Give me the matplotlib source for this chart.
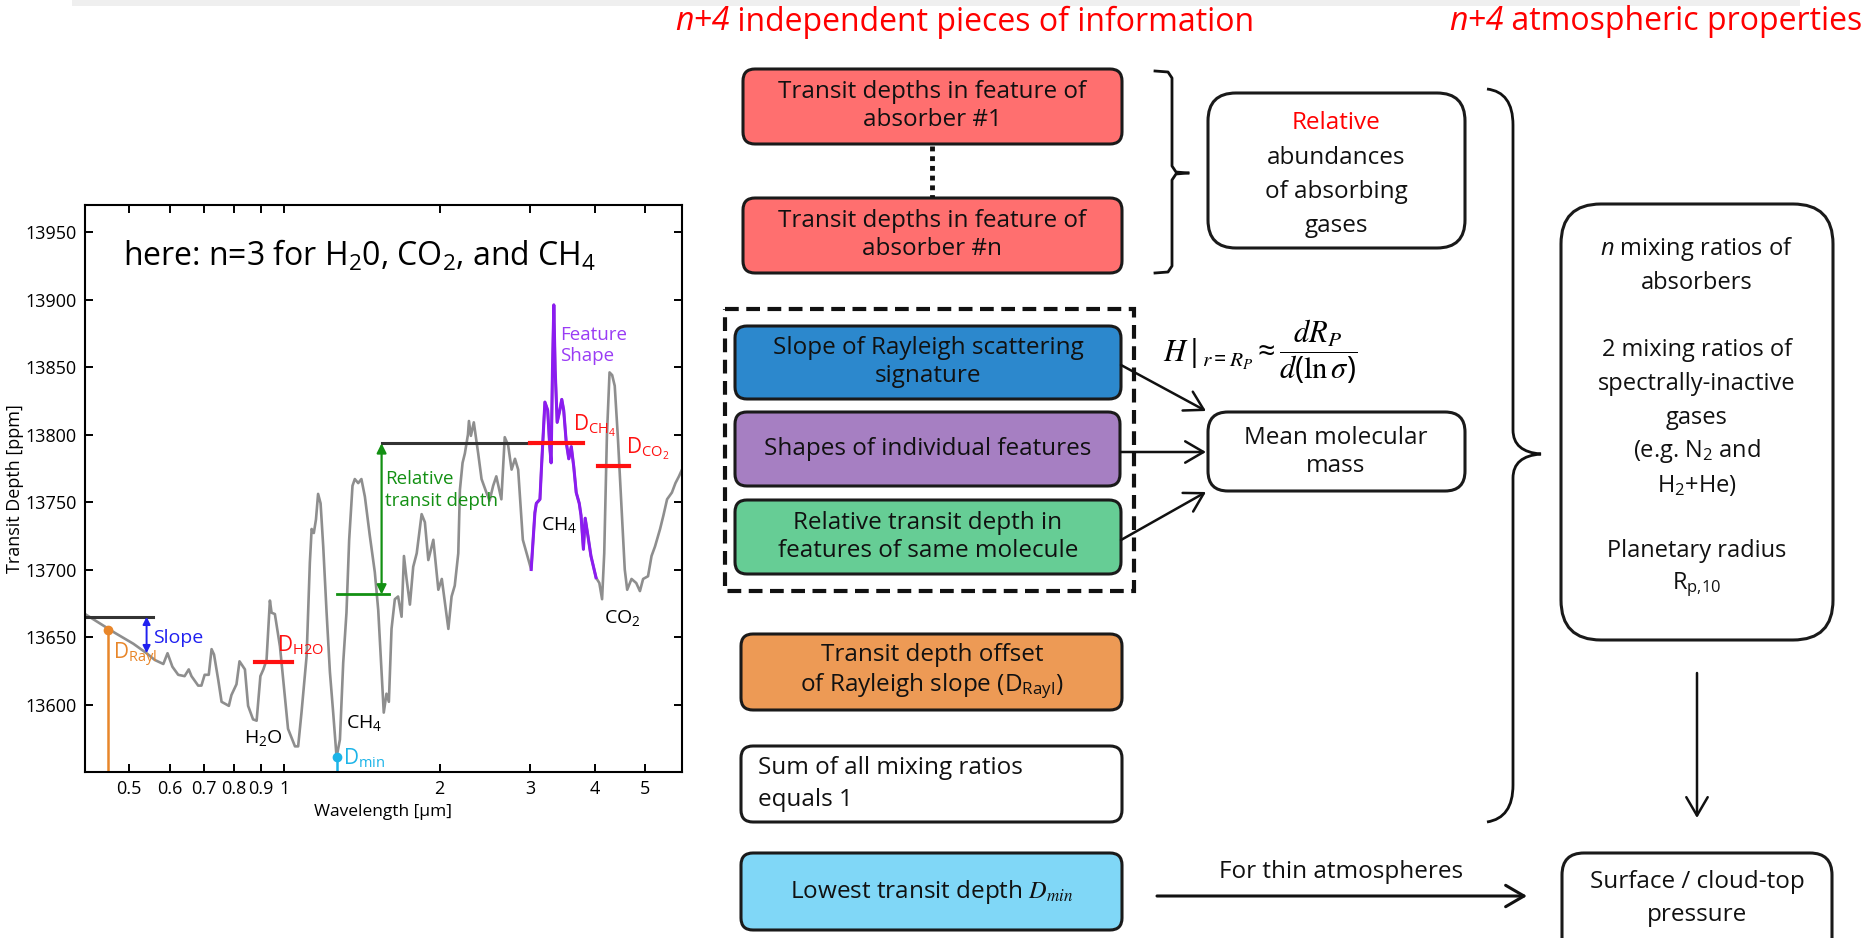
import numpy as np
import matplotlib
matplotlib.use('Agg')
import matplotlib.pyplot as plt
from matplotlib.patches import FancyBboxPatch, Rectangle, PathPatch
from matplotlib.path import Path
from matplotlib.ticker import NullLocator

plt.rcParams['font.family'] = ['Open Sans', 'DejaVu Sans']
plt.rcParams['mathtext.fontset'] = 'custom'
plt.rcParams['mathtext.rm'] = 'Open Sans'
plt.rcParams['mathtext.it'] = 'Open Sans:italic'
plt.rcParams['mathtext.default'] = 'regular'

# transmission spectrum: wavelength [micron] and transit depth [ppm]
wavelength = np.array([
    0.411, 0.47, 0.51, 0.541, 0.561, 0.583, 0.594, 0.607, 0.623, 0.641,
    0.653, 0.661, 0.681, 0.691, 0.701, 0.714, 0.723, 0.731, 0.745, 0.756,
    0.781, 0.79, 0.808, 0.819, 0.839, 0.851, 0.870, 0.884, 0.899, 0.911,
    0.924, 0.938, 0.945, 0.959, 0.981, 0.995, 1.017, 1.049, 1.064, 1.080,
    1.105, 1.121, 1.130, 1.141, 1.152, 1.163, 1.176, 1.190, 1.208, 1.226,
    1.244, 1.263, 1.282, 1.301, 1.320, 1.336, 1.356, 1.370, 1.391, 1.411,
    1.433, 1.465, 1.498, 1.521, 1.544, 1.559, 1.578, 1.595, 1.614, 1.638,
    1.662, 1.688, 1.706, 1.726, 1.752, 1.778, 1.806, 1.846, 1.873, 1.902,
    1.945, 1.989, 2.02, 2.08, 2.11, 2.14, 2.174, 2.19, 2.216, 2.239,
    2.27, 2.28, 2.30, 2.33, 2.376, 2.412, 2.465, 2.50, 2.54, 2.576,
    2.635, 2.675, 2.716, 2.758, 2.80, 2.84, 2.90, 2.95, 3.01, 3.06,
    3.08, 3.13, 3.15, 3.20, 3.24, 3.27, 3.29, 3.31, 3.33, 3.35,
    3.38, 3.42, 3.45, 3.48, 3.52, 3.56, 3.60, 3.64, 3.68, 3.73,
    3.76, 3.80, 3.83, 3.87, 3.93, 4.02, 4.08, 4.13, 4.17, 4.22,
    4.27, 4.32, 4.37, 4.43, 4.50, 4.57, 4.62, 4.71, 4.81, 4.89,
    4.96, 5.07, 5.15, 5.23, 5.35, 5.43, 5.52, 5.64, 5.73, 5.82, 5.90])
transit_depth = np.array([
    13667, 13653, 13645, 13638, 13633, 13630, 13638, 13628, 13622, 13621,
    13626, 13621, 13614, 13614, 13622, 13622, 13641, 13637, 13618, 13602,
    13599, 13607, 13615, 13632, 13626, 13599, 13589, 13588, 13621, 13626,
    13633, 13677, 13668, 13667, 13643, 13619, 13582, 13569, 13569, 13594,
    13636, 13705, 13730, 13727, 13737, 13756, 13749, 13717, 13668, 13624,
    13594, 13561, 13574, 13631, 13668, 13722, 13762, 13767, 13764, 13767,
    13754, 13725, 13698, 13670, 13624, 13594, 13608, 13602, 13656, 13678,
    13680, 13665, 13710, 13693, 13674, 13702, 13712, 13741, 13735, 13707,
    13722, 13685, 13693, 13656, 13680, 13688, 13712, 13759, 13779, 13786,
    13800, 13810, 13799, 13809, 13786, 13767, 13757, 13751, 13762, 13769,
    13752, 13798, 13792, 13774, 13782, 13774, 13722, 13712, 13700, 13742,
    13749, 13752, 13774, 13824, 13818, 13791, 13779, 13848, 13896, 13848,
    13809, 13818, 13826, 13818, 13794, 13782, 13791, 13776, 13757, 13749,
    13740, 13715, 13738, 13727, 13710, 13694, 13690, 13678, 13712, 13799,
    13846, 13844, 13836, 13799, 13749, 13700, 13685, 13693, 13690, 13684,
    13693, 13695, 13710, 13717, 13730, 13740, 13752, 13757, 13764, 13769, 13774])

# methane band highlighted as "feature shape"
ch4_band = (3.0, 4.03)

xtick_values = [0.5, 0.6, 0.7, 0.8, 0.9, 1, 2, 3, 4, 5]
xtick_labels = ['0.5', '0.6', '0.7', '0.8', '0.9', '1', '2', '3', '4', '5']
ytick_values = [13600, 13650, 13700, 13750, 13800, 13850, 13900, 13950]

# marked depths on the spectrum
d_rayl_wl, d_rayl = 0.456, 13655.5
slope_wl, slope_top, slope_bottom = 0.541, 13665, 13638
slope_ref_span = (0.411, 0.557)
d_h2o_span, d_h2o = (0.877, 1.033), 13631.5
d_min_wl, d_min = 1.263, 13561
rel_base_span, rel_base = (1.263, 1.597), 13681.5
rel_top_span, rel_top = (1.544, 2.99), 13793.5
rel_arrow_wl = 1.544
d_ch4_span, d_ch4 = (2.99, 3.80), 13793.5
d_co2_span, d_co2 = (4.06, 4.65), 13776.5

W, H = 1875, 938
fig = plt.figure(figsize=(W / 100, H / 100), dpi=100)
renderer = fig.canvas.get_renderer()

# flow diagram layer, in pixel units
dg = fig.add_axes([0, 0, 1, 1])
dg.set_xlim(0, W)
dg.set_ylim(H, 0)
dg.axis('off')

# ---------------- spectrum panel ----------------
ax = fig.add_axes([85 / W, 1 - 772 / H, 597 / W, 567 / H])
ax.plot(wavelength, transit_depth, color='#8e8e8e', lw=1.9, zorder=2)
band = (wavelength >= ch4_band[0]) & (wavelength <= ch4_band[1])
ax.plot(wavelength[band], transit_depth[band], color='#8b1cf0', lw=2.2, zorder=3)

ax.set_xscale('log')
ax.set_xlim(0.411, 5.9)
ax.set_ylim(13550, 13970)
ax.set_xticks(xtick_values)
ax.set_xticklabels(xtick_labels)
ax.xaxis.set_minor_locator(NullLocator())
ax.set_yticks(ytick_values)
ax.tick_params(direction='in', top=True, right=True, length=6, width=1.4,
               labelsize=13, pad=6)
for s in ax.spines.values():
    s.set_linewidth(1.5)
ax.set_xlabel('Wavelength [µm]', fontsize=12.5, labelpad=4)
ax.set_ylabel('Transit Depth [ppm]', fontsize=13, labelpad=1)

ax.text(0.487, 13932, 'here: n=3 for H$_2$0, CO$_2$, and CH$_4$', fontsize=23,
        va='center', color='black')

# Rayleigh slope
ax.plot(slope_ref_span, [slope_top, slope_top], color='#333333', lw=2.2)
ax.annotate('', xy=(slope_wl, slope_bottom), xytext=(slope_wl, slope_top),
            arrowprops=dict(arrowstyle='<|-|>', color='#2020f0', lw=1.4,
                            mutation_scale=11, shrinkA=0, shrinkB=0))
ax.text(0.557, 13649, 'Slope', color='#2020f0', fontsize=14, va='center')
ax.plot([d_rayl_wl, d_rayl_wl], [13550, d_rayl], color='#e8862a', lw=1.8)
ax.plot(d_rayl_wl, d_rayl, 'o', color='#e8862a', ms=6)
ax.text(0.466, 13637, 'D$_{Rayl}$', color='#e8862a', fontsize=15, va='center')

# water feature
ax.plot(d_h2o_span, [d_h2o, d_h2o], color='#ff1010', lw=3)
ax.text(0.966, 13644, 'D$_{H2O}$', color='#ff1010', fontsize=15, va='center')
ax.text(0.91, 13575, 'H$_2$O', fontsize=14, va='center', ha='center')

# lowest depth
ax.plot([d_min_wl, d_min_wl], [13550, d_min], color='#1cb4e8', lw=1.8)
ax.plot(d_min_wl, d_min, 'o', color='#1cb4e8', ms=6)
ax.text(1.30, 13560, 'D$_{min}$', color='#1cb4e8', fontsize=15, va='center')
ax.text(1.32, 13586, 'CH$_4$', fontsize=14, va='center')

# relative transit depth
ax.plot(rel_base_span, [rel_base, rel_base], color='#139013', lw=2)
ax.plot(rel_top_span, [rel_top, rel_top], color='#333333', lw=2.2)
ax.annotate('', xy=(rel_arrow_wl, rel_base), xytext=(rel_arrow_wl, rel_top),
            arrowprops=dict(arrowstyle='<|-|>', color='#139013', lw=1.6,
                            mutation_scale=14, shrinkA=0, shrinkB=0))
ax.text(1.566, 13759, 'Relative\ntransit depth', color='#139013', fontsize=13.5,
        va='center', linespacing=1.25)

# methane and CO2 features
ax.plot(d_ch4_span, [d_ch4, d_ch4], color='#ff1010', lw=3, zorder=4)
ax.text(3.63, 13806, 'D$_{CH_4}$', color='#ff1010', fontsize=15, va='center')
ax.text(3.43, 13866, 'Feature\nShape', color='#9a3cf5', fontsize=13.5,
        va='center', linespacing=1.25)
ax.text(3.15, 13733, 'CH$_4$', fontsize=14, va='center')
ax.plot(d_co2_span, [d_co2, d_co2], color='#ff1010', lw=3, zorder=4)
ax.text(4.6, 13789, 'D$_{CO_2}$', color='#ff1010', fontsize=15, va='center')
ax.text(4.17, 13664, 'CO$_2$', fontsize=14, va='center')


# ---------------- diagram ----------------
def box(x0, y0, x1, y1, color, radius=12, lw=2.2):
    dg.add_patch(FancyBboxPatch((x0, y0), x1 - x0, y1 - y0,
                                boxstyle=f'round,pad=0,rounding_size={radius}',
                                fc=color, ec='#1a1a1a', lw=lw))


def label(x, y, s, size=17.5, color='#111111', ha='center', **kw):
    kw.setdefault('linespacing', 1.25)
    dg.text(x, y, s, fontsize=size, color=color, ha=ha, va='center', **kw)


def arrow(x0, y0, x1, y1, lw=1.8):
    dg.annotate('', xy=(x1, y1), xytext=(x0, y0),
                arrowprops=dict(arrowstyle='->, head_length=0.6, head_width=0.35',
                                color='#111111', lw=lw, mutation_scale=22,
                                shrinkA=0, shrinkB=0))


def header(x, y, rest):
    # italic "n+4" followed by upright text
    t = dg.text(x, y, 'n+4', fontsize=23, color='#ff0000', style='italic',
                va='center', ha='left')
    x1 = t.get_window_extent(renderer).x1
    x_next = dg.transData.inverted().transform((x1, 0))[0]
    dg.text(x_next, y, ' ' + rest, fontsize=23, color='#ff0000',
            va='center', ha='left')


# faint strip along the top
dg.add_patch(Rectangle((72, 0), 1728, 6, color='#efefef', lw=0))

# column headers
header(675, 22, 'independent pieces of information')
header(1449, 22, 'atmospheric properties')

# absorber boxes
box(743, 69, 1122, 144, '#ff6f6f')
label(932, 106, 'Transit depths in feature of\nabsorber #1')
box(743, 198, 1122, 273, '#ff6f6f')
label(932, 235, 'Transit depths in feature of\nabsorber #n')
dg.plot([932, 932], [146, 197], color='#111111', lw=3.5, ls=(0, (1, 1)))

# small bracket
dg.plot([1155, 1168, 1172, 1172, 1176, 1188], [71, 72, 78, 166, 172, 173],
        color='#111111', lw=2)
dg.plot([1188, 1176, 1172, 1172, 1168, 1155], [173, 174, 180, 266, 272, 273],
        color='#111111', lw=2)

box(1208, 93, 1465, 248, 'white', radius=28)
label(1336, 123, 'Relative', color='#ff0000')
label(1336, 158, 'abundances')
label(1336, 192, 'of absorbing')
label(1336, 226, 'gases')

# dashed group
dg.add_patch(Rectangle((725, 309), 409, 282, fill=False, ec='#111111', lw=3,
                       ls=(0, (3.3, 1.8))))
box(735, 326, 1121, 399, '#2c88cd')
label(928, 362, 'Slope of Rayleigh scattering\nsignature')
box(735, 412, 1120, 486, '#a67fc2')
label(928, 449, 'Shapes of individual features')
box(735, 500, 1121, 574, '#66cd95')
label(928, 537, 'Relative transit depth in\nfeatures of same molecule')

box(1208, 412, 1465, 491, 'white', radius=20)
label(1336, 452, 'Mean molecular\nmass')
dg.text(1163, 352,
        r'$\mathit{H}|_{\mathit{r}=\mathit{R_P}}\approx'
        r'\dfrac{\mathit{dR_P}}{\mathit{d}(\mathrm{ln}\,\mathit{\sigma})}$',
        fontsize=22, va='center', ha='left', math_fontfamily='stix')
arrow(1121, 365, 1206, 411)
arrow(1121, 452, 1206, 452)
arrow(1121, 540, 1206, 492)

box(741, 634, 1122, 710, '#ed9a55')
label(932, 672, 'Transit depth offset\nof Rayleigh slope (D$_{Rayl}$)')
box(741, 746, 1122, 822, 'white')
label(758, 784, 'Sum of all mixing ratios\nequals 1', ha='left', linespacing=1.4)
box(741, 853, 1122, 930, '#80d7f7')
dg.text(932, 892, r'Lowest transit depth $\mathit{D_{min}}$', fontsize=17.5,
        va='center', ha='center', color='#111111', math_fontfamily='stix')

# thin atmosphere path
label(1341, 872, 'For thin atmospheres')
arrow(1157, 896, 1527, 896, lw=2.2)
box(1562, 853, 1832, 965, 'white', radius=22)
label(1697, 882, 'Surface / cloud-top')
label(1697, 915, 'pressure')

# large brace
brace = Path([(1487, 89), (1513, 92), (1513, 125), (1513, 430), (1513, 452),
              (1541, 454), (1513, 456), (1513, 478), (1513, 785), (1513, 818),
              (1487, 822)],
             [Path.MOVETO, Path.CURVE3, Path.CURVE3, Path.LINETO, Path.CURVE3,
              Path.CURVE3, Path.CURVE3, Path.CURVE3, Path.LINETO, Path.CURVE3,
              Path.CURVE3])
dg.add_patch(PathPatch(brace, fill=False, ec='#111111', lw=2))

# retrieved properties
box(1561, 204, 1833, 640, 'white', radius=40)
props = [(249, r'$\mathit{n}$ mixing ratios of'), (283, 'absorbers'),
         (350, '2 mixing ratios of'), (384, 'spectrally-inactive'), (418, 'gases'),
         (451, '(e.g. N$_2$ and'), (486, 'H$_2$+He)'),
         (551, 'Planetary radius'), (585, 'R$_{p{,}10}$')]
for yy, s in props:
    label(1697, yy, s, size=17)
arrow(1697, 673, 1697, 818)

fig.savefig('out.png', dpi=100)
